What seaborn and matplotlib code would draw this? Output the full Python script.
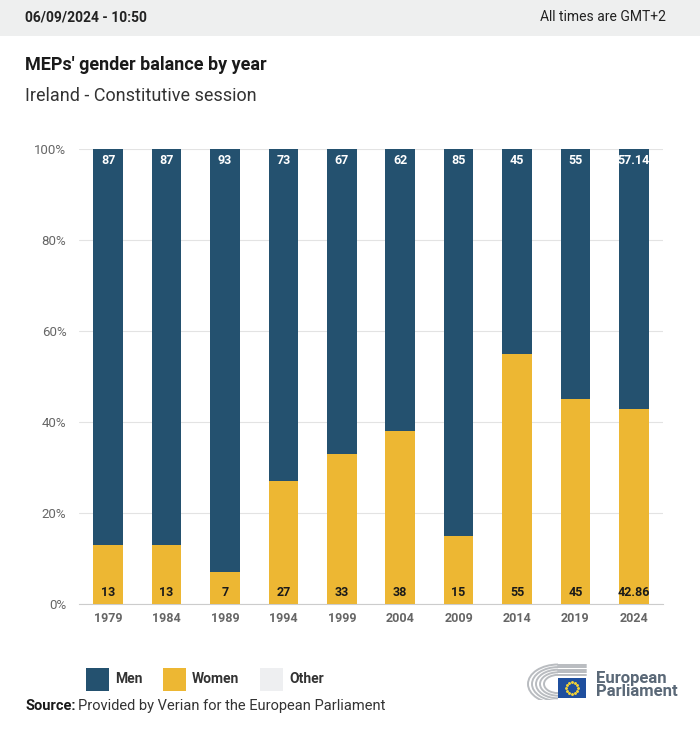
import numpy as np
import pandas as pd
import matplotlib
matplotlib.use("Agg")
import matplotlib.pyplot as plt
import matplotlib.patches as mpatches
import seaborn as sns

# Data
years = ["1979", "1984", "1989", "1994", "1999", "2004", "2009", "2014", "2019", "2024"]
men = [87, 87, 93, 73, 67, 62, 85, 45, 55, 57.14]
women = [13, 13, 7, 27, 33, 38, 15, 55, 45, 42.86]
men_labels = ["87", "87", "93", "73", "67", "62", "85", "45", "55", "57.14"]
women_labels = ["13", "13", "7", "27", "33", "38", "15", "55", "45", "42.86"]

men_color = "#24516f"
women_color = "#edb733"
other_color = "#eeeff1"

sns.set_theme(style="white")
plt.rcParams["font.family"] = ["Roboto", "DejaVu Sans"]

df = pd.DataFrame({"year": years, "men": men, "women": women})
df["total"] = df["men"] + df["women"]

fig = plt.figure(figsize=(7, 7.31), dpi=100)
W, H = 700, 731

def fx(px):
    return px / W

def fy(py):
    return 1 - py / H

# header band
fig.patches.append(mpatches.Rectangle((0, fy(36)), 1, 36 / H, transform=fig.transFigure,
                                      facecolor="#eeefef", edgecolor="none", zorder=0))
fig.text(fx(25), fy(17), "06/09/2024 - 10:50", fontsize=10, fontweight="bold",
         color="#222222", va="center", ha="left")
fig.text(fx(666), fy(17), "All times are GMT+2", fontsize=10, color="#222222",
         va="center", ha="right")
fig.text(fx(25), fy(65), "MEPs' gender balance by year", fontsize=13, fontweight="bold",
         color="#1a1a1a", va="center", ha="left")
fig.text(fx(25), fy(96), "Ireland - Constitutive session", fontsize=13, color="#333333",
         va="center", ha="left")

# main axes
ax = fig.add_axes([fx(79), fy(604), (663 - 79) / W, (604 - 149) / H])
sns.barplot(data=df, x="year", y="total", color=men_color, width=0.51,
            saturation=1, linewidth=0, ax=ax, zorder=2)
sns.barplot(data=df, x="year", y="women", color=women_color, width=0.51,
            saturation=1, linewidth=0, ax=ax, zorder=3)

ax.set_ylim(0, 100)
ax.set_xlim(-0.5, len(years) - 0.5)
ax.set_yticks([0, 20, 40, 60, 80, 100])
ax.set_yticklabels(["0%", "20%", "40%", "60%", "80%", "100%"])
ax.yaxis.grid(True, color="#e3e3e3", linewidth=0.8, zorder=0)
ax.set_axisbelow(True)
for s in ["top", "right", "left"]:
    ax.spines[s].set_visible(False)
ax.spines["bottom"].set_color("#cccccc")
ax.spines["bottom"].set_linewidth(0.8)
ax.set_xlabel("")
ax.set_ylabel("")
ax.tick_params(axis="y", length=0, pad=9, labelsize=9.5, labelcolor="#666666")
ax.tick_params(axis="x", length=0, pad=6, labelsize=9, labelcolor="#666666")
for lbl in ax.get_xticklabels():
    lbl.set_fontweight("bold")

for i in range(len(years)):
    ax.text(i, 97.5, men_labels[i], ha="center", va="center", color="white",
            fontsize=9, fontweight="bold", zorder=5)
    ax.text(i, 2.5, women_labels[i], ha="center", va="center", color="#1a1a1a",
            fontsize=9, fontweight="bold", zorder=5)

# legend
for x0, c, name in [(86, men_color, "Men"), (163, women_color, "Women"), (260, other_color, "Other")]:
    fig.patches.append(mpatches.Rectangle((fx(x0), fy(691)), 23 / W, 23 / H,
                                          transform=fig.transFigure, facecolor=c,
                                          edgecolor="none"))
    fig.text(fx(x0 + 29), fy(679), name, fontsize=10, fontweight="bold", color="#333333",
             va="center", ha="left")

# source
fig.text(fx(25), fy(706), "Source:", fontsize=10.5, fontweight="bold", color="#1a1a1a",
         va="center", ha="left")
fig.text(fx(78), fy(706), "Provided by Verian for the European Parliament", fontsize=10.5,
         color="#333333", va="center", ha="left")

# logo (approximation)
lax = fig.add_axes([fx(524), fy(700), 70 / W, 40 / H])
lax.set_xlim(0, 70)
lax.set_ylim(0, 40)
lax.axis("off")
for r in [30, 26, 22, 18, 14]:
    lax.add_patch(mpatches.Arc((34, 16), 2 * r, 1.3 * r, theta1=90, theta2=270,
                               color="#b9bcc0", linewidth=1.4))
    lax.plot([34, 62], [16 + 0.65 * r, 16 + 0.65 * r], color="#b9bcc0", linewidth=1.4)
lax.add_patch(mpatches.Rectangle((34, 2), 28, 20, facecolor="#1f4f9e", edgecolor="none"))
ang = np.linspace(0, 2 * np.pi, 12, endpoint=False)
lax.scatter(48 + 6 * np.cos(ang), 12 + 6 * np.sin(ang), s=1.2, color="#f3d236", zorder=5)
fig.text(fx(596), fy(678), "European", fontsize=12, fontweight="bold", color="#5a6877",
         va="center", ha="left")
fig.text(fx(596), fy(692), "Parliament", fontsize=12, fontweight="bold", color="#5a6877",
         va="center", ha="left")

fig.savefig("out.png", dpi=100)
